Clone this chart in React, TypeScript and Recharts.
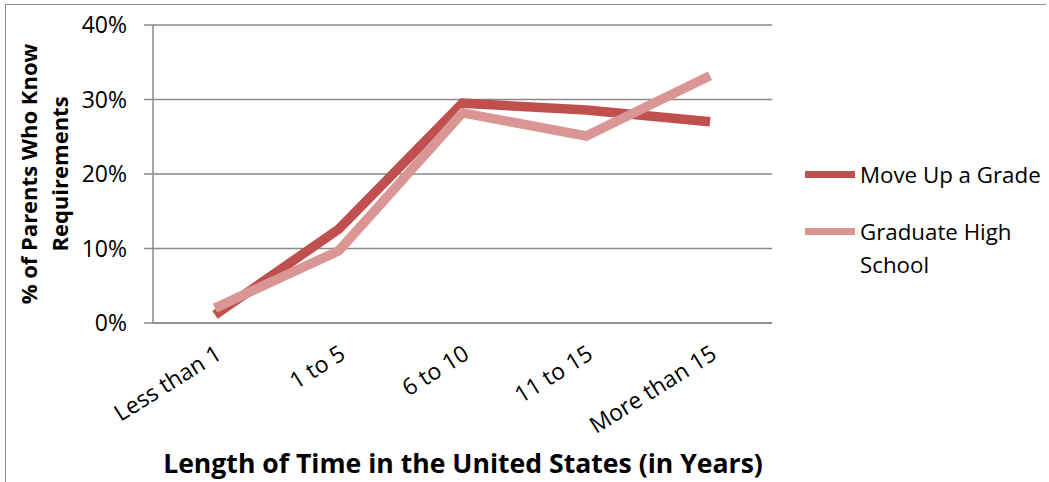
import React from 'react';
import { LineChart, Line, XAxis, YAxis, CartesianGrid, Label } from 'recharts';

const categories = ['Less than 1', '1 to 5', '6 to 10', '11 to 15', 'More than 15'];
const moveUpGrade = [0.011, 0.126, 0.295, 0.286, 0.27];
const graduateHighSchool = [0.02, 0.097, 0.282, 0.251, 0.332];
const yTicks = [0, 0.1, 0.2, 0.3, 0.4];
const seriesNames = ['Move Up a Grade', 'Graduate High School'];
const colors = ['#C0504D', '#D99694'];

const data = categories.map((c, i) => ({
  name: c,
  moveUp: moveUpGrade[i],
  graduate: graduateHighSchool[i],
}));

const FONT = '"Open Sans", "Noto Sans", sans-serif';

const XTick = (props: any) => {
  const { x, payload } = props;
  const ax = x + 4;
  const ay = 351;
  return (
    <text
      x={ax}
      y={ay}
      dy="0.35em"
      textAnchor="end"
      transform={`rotate(-32, ${ax}, ${ay})`}
      fontSize={23}
      fontFamily={FONT}
      fill="#000"
    >
      {payload.value}
    </text>
  );
};

const YTitle = () => (
  <g fontFamily={FONT} fontWeight="bold" fontSize={22} fill="#000">
    <text x={37} y={174} textAnchor="middle" transform="rotate(-90, 37, 174)">
      % of Parents Who Know
    </text>
    <text x={68} y={174} textAnchor="middle" transform="rotate(-90, 68, 174)">
      Requirements
    </text>
  </g>
);

const XTitle = () => (
  <text
    x={463}
    y={473}
    textAnchor="middle"
    fontFamily={FONT}
    fontWeight="bold"
    fontSize={26.6}
    fill="#000"
  >
    Length of Time in the United States (in Years)
  </text>
);

const LegendBox = () => (
  <div style={{ position: 'absolute', left: 805, top: 158, fontFamily: FONT, fontSize: 22.3, color: '#000', lineHeight: '33px' }}>
    {seriesNames.map((n, i) => (
      <div key={n} style={{ display: 'flex', alignItems: 'flex-start', marginBottom: i === 0 ? 24 : 0 }}>
        <div style={{ width: 50, height: 7, background: colors[i], marginTop: 13, marginRight: 5, flex: 'none' }} />
        <div style={{ width: 188 }}>{n}</div>
      </div>
    ))}
  </div>
);

export default function App() {
  return (
    <div style={{ position: 'absolute', left: 0, top: 0, width: 1049, height: 482, background: '#fff', overflow: 'hidden' }}>
      <div style={{ position: 'absolute', left: 5, top: 4, width: 1040, height: 478, borderTop: '1.5px solid #8c8c8c', borderLeft: '1.5px solid #8c8c8c' }} />
      <div style={{ position: 'absolute', left: 0, top: 0 }}>
        <LineChart width={1049} height={482} data={data} margin={{ top: 25, right: 277, left: 93, bottom: 39 }}>
          <CartesianGrid vertical={false} stroke="#8a8a8a" strokeWidth={1.5} />
          <XAxis
            dataKey="name"
            height={120}
            padding={{ left: 62, right: 62 }}
            axisLine={{ stroke: '#8a8a8a', strokeWidth: 1.5 }}
            tickLine={false}
            tick={<XTick />}
            interval={0}
          >
            <Label content={<XTitle />} />
          </XAxis>
          <YAxis
            width={60}
            domain={[0, 0.4]}
            ticks={yTicks}
            tickFormatter={(v: number) => `${Math.round(v * 100)}%`}
            axisLine={{ stroke: '#8a8a8a', strokeWidth: 1.5 }}
            tickLine={{ stroke: '#8a8a8a', strokeWidth: 1.5 }}
            tickSize={9}
            tickMargin={17}
            tick={{ fontSize: 23, fontFamily: FONT, fill: '#000' }}
          >
            <Label content={<YTitle />} />
          </YAxis>
          <Line
            type="linear"
            dataKey="moveUp"
            name={seriesNames[0]}
            stroke={colors[0]}
            strokeWidth={9.5}
            strokeLinejoin="miter"
            strokeLinecap="butt"
            dot={false}
            activeDot={false}
            isAnimationActive={false}
          />
          <Line
            type="linear"
            dataKey="graduate"
            name={seriesNames[1]}
            stroke={colors[1]}
            strokeWidth={9.5}
            strokeLinejoin="miter"
            strokeLinecap="butt"
            dot={false}
            activeDot={false}
            isAnimationActive={false}
          />
        </LineChart>
      </div>
      <LegendBox />
    </div>
  );
}
